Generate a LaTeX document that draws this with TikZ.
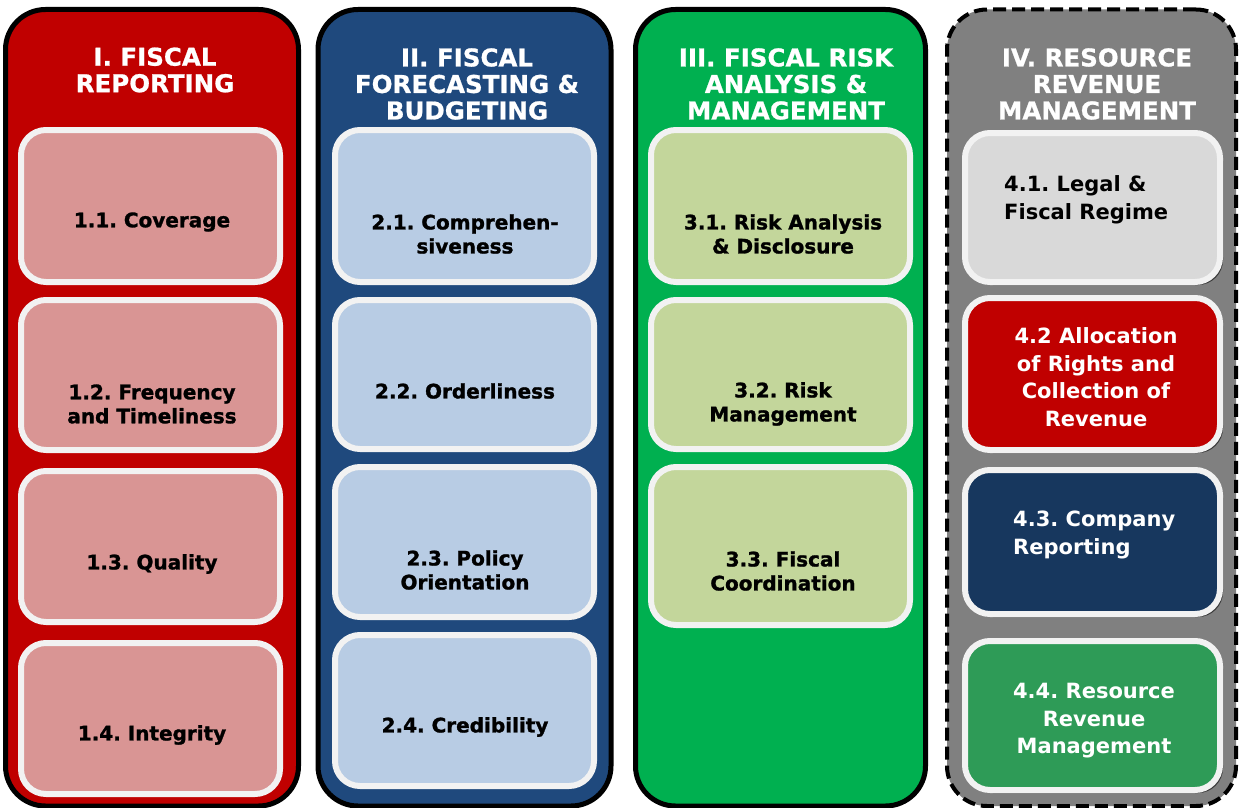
\documentclass[tikz,border=0pt]{standalone}
\usepackage{fontspec}
\setmainfont{DejaVu Sans}
\newfontfamily\heavyfont{DejaVu Sans}[BoldFeatures={FakeBold=1.3}]
\newfontfamily\titlefont{DejaVu Sans}[BoldFeatures={FakeBold=0.8}]
\usetikzlibrary{shadows}
\definecolor{colred}{HTML}{C00000}
\definecolor{colblue}{HTML}{1F497D}
\definecolor{colgreen}{HTML}{00B050}
\definecolor{colgray}{HTML}{808080}
\definecolor{inred}{HTML}{D99594}
\definecolor{inblue}{HTML}{B8CCE4}
\definecolor{ingreen}{HTML}{C3D69B}
\definecolor{ingray}{HTML}{D9D9D9}
\definecolor{innavy}{HTML}{17375E}
\definecolor{inemerald}{HTML}{2E9B57}
\definecolor{rim}{HTML}{F2F2F2}
\tikzset{
  colbox/.style={draw=black, line width=5pt, rounded corners=40pt, inner sep=0pt},
  colboxdash/.style={draw=black, line width=4pt, rounded corners=40pt, inner sep=0pt, dash pattern=on 13pt off 6pt},
  itembox/.style={draw=rim, line width=6pt, rounded corners=25pt, inner sep=0pt},
  shadowbox/.style={itembox, drop shadow={shadow xshift=3pt, shadow yshift=-3pt, fill=black, opacity=0.55}},
  titletext/.style={text=white, font=\titlefont\fontsize{24.5}{26.5}\selectfont\bfseries, align=center, inner sep=0pt},
  itemtext/.style={text=black, font=\heavyfont\fontsize{20}{24}\selectfont\bfseries, align=center, inner sep=0pt},
  itemtextw/.style={text=white, font=\fontsize{21}{27.5}\selectfont\bfseries, align=center, inner sep=0pt},
  itemtextl/.style={text=black, font=\fontsize{21}{27.5}\selectfont\bfseries, align=left, inner sep=0pt},
}
\frenchspacing
\begin{document}
\begin{tikzpicture}[x=1pt, y=-1pt]
\useasboundingbox (0,0) rectangle (1240,808);
\fill[white] (0,0) rectangle (1240,808);
% columns
\node[colbox, fill=colred, minimum width=293pt, minimum height=796.5pt] (c1) at (152,407.75) {};
\node[colbox, fill=colblue, minimum width=293pt, minimum height=796.5pt] (c2) at (464.5,407.75) {};
\node[colbox, fill=colgreen, minimum width=290pt, minimum height=796.5pt] (c3) at (780.5,407.75) {};
\node[colboxdash, fill=colgray, minimum width=289pt, minimum height=796.5pt] (c4) at (1091.5,407.75) {};
% titles
\node[titletext] (t1) at (155,70) {I. FISCAL\\REPORTING};
\node[titletext] (t2) at (467,84) {II. FISCAL\\FORECASTING \&\\BUDGETING};
\node[titletext] (t3) at (786,84) {III. FISCAL RISK\\ANALYSIS \&\\MANAGEMENT};
\node[titletext] (t4) at (1097,84) {IV. RESOURCE\\REVENUE\\MANAGEMENT};
% column 1
\node[itembox, fill=inred, minimum width=259pt, minimum height=152pt] (b11) at (150.5,206) {};
\node[itembox, fill=inred, minimum width=259pt, minimum height=150pt] (b12) at (150.5,375) {};
\node[itembox, fill=inred, minimum width=259pt, minimum height=151pt] (b13) at (150.5,546.5) {};
\node[itembox, fill=inred, minimum width=259pt, minimum height=151pt] (b14) at (150.5,718.5) {};
\node[itemtext] (l11) at (152,222) {1.1. Coverage};
\node[itemtext] (l12) at (152,404) {1.2. Frequency\\and Timeliness};
\node[itemtext] (l13) at (152,564) {1.3. Quality};
\node[itemtext] (l14) at (152,735) {1.4. Integrity};
% column 2
\node[itembox, fill=inblue, minimum width=259pt, minimum height=152pt] (b21) at (464.5,206) {};
\node[itembox, fill=inblue, minimum width=259pt, minimum height=149pt] (b22) at (464.5,374.5) {};
\node[itembox, fill=inblue, minimum width=259pt, minimum height=150pt] (b23) at (464.5,542) {};
\node[itembox, fill=inblue, minimum width=259pt, minimum height=151pt] (b24) at (464.5,710.5) {};
\node[itemtext] (l21) at (465,234) {2.1. Comprehen-\\siveness};
\node[itemtext] (l22) at (465,391) {2.2. Orderliness};
\node[itemtext] (l23) at (465,570) {2.3. Policy\\Orientation};
\node[itemtext] (l24) at (465,727) {2.4. Credibility};
% column 3
\node[itembox, fill=ingreen, minimum width=259pt, minimum height=152pt] (b31) at (780.5,206) {};
\node[itembox, fill=ingreen, minimum width=259pt, minimum height=149pt] (b32) at (780.5,374.5) {};
\node[itembox, fill=ingreen, minimum width=259pt, minimum height=158pt] (b33) at (780.5,546) {};
\node[itemtext] (l31) at (783,234) {3.1. Risk Analysis\\\& Disclosure};
\node[itemtext] (l32) at (783,404) {3.2. Risk\\Management};
\node[itemtext] (l33) at (783,571) {3.3. Fiscal\\Coordination};
% column 4
\node[shadowbox, fill=ingray, minimum width=255pt, minimum height=149pt] (b41) at (1092.5,207.5) {};
\node[shadowbox, fill=colred, minimum width=255pt, minimum height=152pt] (b42) at (1092.5,374) {};
\node[shadowbox, fill=innavy, minimum width=255pt, minimum height=144pt] (b43) at (1092.5,542) {};
\node[shadowbox, fill=inemerald, minimum width=255pt, minimum height=149pt] (b44) at (1092.5,715.5) {};
\node[itemtextl, anchor=west] (l41) at (1004,200) {4.1. Legal \&\\Fiscal Regime};
\node[itemtextw] (l42) at (1096,377) {4.2 Allocation\\of Rights and\\Collection of\\Revenue};
\node[itemtextl, text=white, anchor=west] (l43) at (1013,535) {4.3. Company\\Reporting};
\node[itemtextw] (l44) at (1094,721) {4.4. Resource\\Revenue\\Management};
\end{tikzpicture}
\end{document}
